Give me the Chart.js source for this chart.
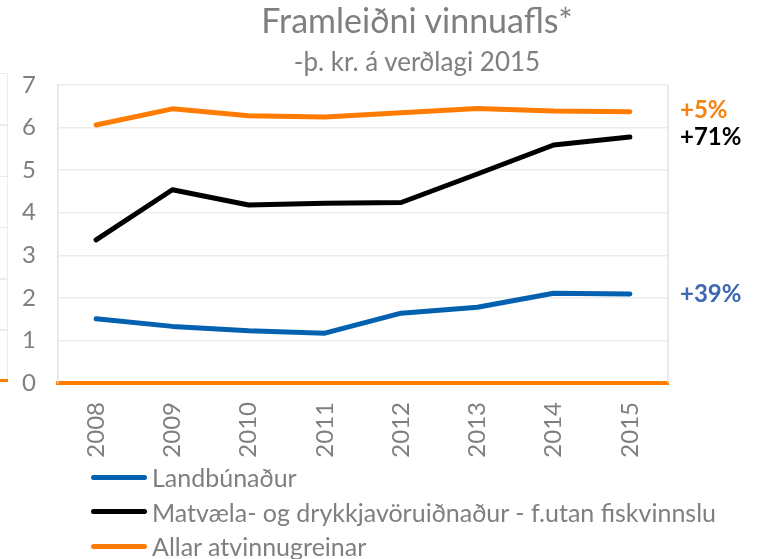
<!DOCTYPE html>
<html>
<head>
<meta charset="utf-8">
<script src="https://cdn.jsdelivr.net/npm/chart.js@4.4.0/dist/chart.umd.min.js"></script>
<style>
  body { margin: 0; background: #fff; font-family: Lato, sans-serif; }
  #wrap { position: relative; width: 764px; height: 559px; overflow: hidden; }
  #chart-box { position: absolute; left: 0; top: 0; width: 764px; height: 559px; }
  .ttl { position: absolute; left: 0; width: 834px; text-align: center; color: #7f7f7f; white-space: nowrap; }
  #title { top: -1px; font-size: 34px; }
  #subtitle { top: 45px; font-size: 26px; }
  #legend { position: absolute; left: 91px; top: 460px; margin: 0; padding: 0; list-style: none; }
  #legend li { height: 34.5px; display: flex; align-items: center; color: #7f7f7f; font-size: 25px; white-space: nowrap; }
  #legend .swatch { display: inline-block; width: 56px; height: 5px; border-radius: 3px; margin-right: 5px; }
  /* edge of the neighbouring chart, cut off at the left */
  #edge { position: absolute; left: 0; top: 73px; width: 7px; height: 308px; border-right: 1.5px solid #ececec;
          background: repeating-linear-gradient(to bottom, #ececec 0, #ececec 1.5px, transparent 1.5px, transparent 51.3px); }
  #edge-axis { position: absolute; left: 0; top: 379px; width: 8px; height: 3px; background: #ff7c00; }
</style>
</head>
<body>
<div id="wrap">
  <div id="chart-box"><canvas id="productivity"></canvas></div>
  <div id="edge"></div>
  <div id="edge-axis"></div>
  <div class="ttl" id="title">Framleiðni vinnuafls*</div>
  <div class="ttl" id="subtitle">-þ. kr. á verðlagi 2015</div>
  <ul id="legend"></ul>
</div>
<script>
const YEARS = ["2008", "2009", "2010", "2011", "2012", "2013", "2014", "2015"];

// Framleiðni, þ. kr. á verðlagi 2015
const LANDBUNADUR = [1.51, 1.33, 1.23, 1.17, 1.64, 1.78, 2.11, 2.09];
const MATVAELI = [3.36, 4.54, 4.18, 4.22, 4.24, 4.91, 5.59, 5.78];
const ALLAR = [6.06, 6.44, 6.28, 6.25, 6.35, 6.45, 6.39, 6.37];

const SERIES_NAMES = ["Landbúnaður", "Matvæla- og drykkjavöruiðnaður - f.utan fiskvinnslu", "Allar atvinnugreinar"];
const CHANGE_LABELS = ["+39%", "+71%", "+5%"];
const Y_TICKS = [0, 1, 2, 3, 4, 5, 6, 7];

const LINE_COLORS = ["#0461b0", "#000000", "#ff7c00"];
const LABEL_COLORS = ["#3d68b3", "#000000", "#f5820f"];
const GRAY = "#7f7f7f";

const datasets = [LANDBUNADUR, MATVAELI, ALLAR].map((values, i) => ({
  label: SERIES_NAMES[i],
  data: values,
  borderColor: LINE_COLORS[i],
  backgroundColor: LINE_COLORS[i],
  borderWidth: 5,
  borderCapStyle: "round",
  borderJoinStyle: "round",
  pointRadius: 0,
  tension: 0
}));

// right border of the plot box
const plotBox = {
  id: "plotBox",
  beforeDatasetsDraw(chart) {
    const { ctx, chartArea } = chart;
    ctx.save();
    ctx.strokeStyle = "#e3e3e3";
    ctx.lineWidth = 1.5;
    ctx.beginPath();
    ctx.moveTo(chartArea.right, chartArea.top);
    ctx.lineTo(chartArea.right, chartArea.bottom);
    ctx.stroke();
    ctx.restore();
  }
};

// the % change labels next to the line ends
const changeLabels = {
  id: "changeLabels",
  afterDatasetsDraw(chart) {
    const { ctx, chartArea, scales } = chart;
    ctx.save();
    ctx.font = "bold 24px Lato, sans-serif";
    ctx.textBaseline = "middle";
    ctx.textAlign = "left";
    chart.data.datasets.forEach((ds, i) => {
      const last = ds.data[ds.data.length - 1];
      ctx.fillStyle = LABEL_COLORS[i];
      ctx.fillText(CHANGE_LABELS[i], chartArea.right + 12, scales.y.getPixelForValue(last) - (i === 2 ? 2 : 0));
    });
    ctx.restore();
  }
};

const config = {
  type: "line",
  data: { labels: YEARS, datasets: datasets },
  options: {
    responsive: true,
    maintainAspectRatio: false,
    animation: false,
    layout: { padding: { top: 85, right: 96, bottom: 84, left: 0 } },
    plugins: {
      legend: { display: false },
      tooltip: { enabled: false }
    },
    scales: {
      x: {
        offset: true,
        grid: { display: false, drawTicks: false },
        border: { display: true, color: "#ff7c00", width: 4 },
        ticks: { color: GRAY, font: { family: "Lato", size: 24 }, minRotation: 90, maxRotation: 90, padding: 19 },
        afterFit(scale) { scale.height = 92; }
      },
      y: {
        min: 0,
        max: 7,
        afterBuildTicks(scale) { scale.ticks = Y_TICKS.map(v => ({ value: v })); },
        grid: { color: "#ececec", lineWidth: 1.5, drawTicks: false },
        border: { display: true, color: "#e3e3e3", width: 1.5 },
        ticks: { color: GRAY, font: { family: "Lato", size: 24 }, padding: 22 },
        afterFit(scale) { scale.width = 58; }
      }
    }
  },
  plugins: [plotBox, changeLabels]
};

new Chart(document.getElementById("productivity").getContext("2d"), config);

// legend, one series per row
const legend = document.getElementById("legend");
SERIES_NAMES.forEach((name, i) => {
  const li = document.createElement("li");
  const sw = document.createElement("span");
  sw.className = "swatch";
  sw.style.background = LINE_COLORS[i];
  li.appendChild(sw);
  li.appendChild(document.createTextNode(name));
  legend.appendChild(li);
});
</script>
</body>
</html>
